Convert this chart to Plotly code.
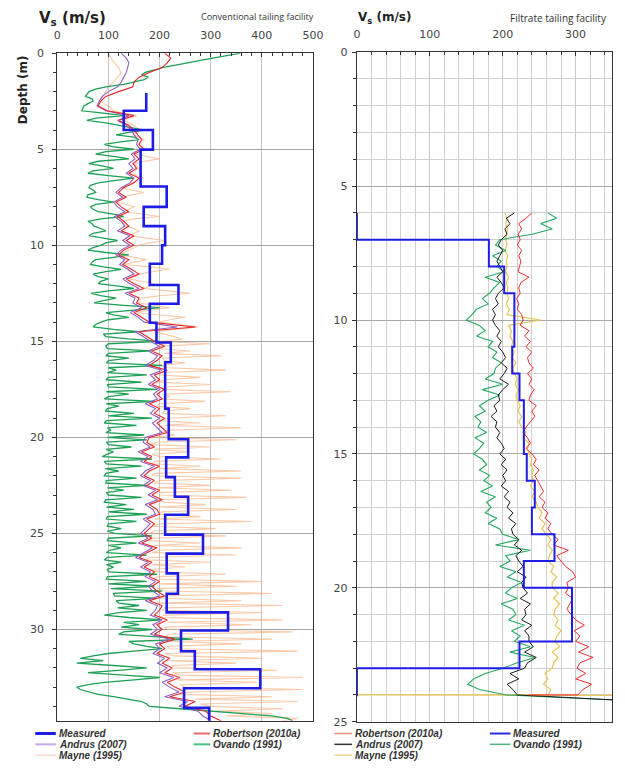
import plotly.graph_objects as go

# ---------------- LEFT PANEL (Conventional tailing facility) ----------------
depth_left = [
    0.0, 0.25, 0.5, 0.75, 1.0, 1.25, 1.5, 1.75, 2.0, 2.25, 2.5, 2.75, 3.0, 3.25, 3.5, 3.75,
    4.0, 4.25, 4.5, 4.75, 5.0, 5.25, 5.5, 5.75, 6.0, 6.25, 6.5, 6.75, 7.0, 7.25, 7.5, 7.75,
    8.0, 8.25, 8.5, 8.75, 9.0, 9.25, 9.5, 9.75, 10.0, 10.25, 10.5, 10.75, 11.0, 11.25, 11.5, 11.75,
    12.0, 12.25, 12.5, 12.75, 13.0, 13.25, 13.5, 13.75, 14.0, 14.25, 14.5, 14.75, 15.0, 15.25, 15.5, 15.75,
    16.0, 16.25, 16.5, 16.75, 17.0, 17.25, 17.5, 17.75, 18.0, 18.25, 18.5, 18.75, 19.0, 19.25, 19.5, 19.75,
    20.0, 20.25, 20.5, 20.75, 21.0, 21.25, 21.5, 21.75, 22.0, 22.25, 22.5, 22.75, 23.0, 23.25, 23.5, 23.75,
    24.0, 24.25, 24.5, 24.75, 25.0, 25.25, 25.5, 25.75, 26.0, 26.25, 26.5, 26.75, 27.0, 27.25, 27.5, 27.75,
    28.0, 28.25, 28.5, 28.75, 29.0, 29.25, 29.5, 29.75, 30.0, 30.25, 30.5, 30.75, 31.0, 31.25, 31.5, 31.75,
    32.0, 32.25, 32.5, 32.75, 33.0, 33.25, 33.5, 33.75, 34.0, 34.25, 34.5, 34.75,
]
robertson_left = [
    210, 222, 215, 205, 180, 160, 150, 148, 120, 95, 85, 80, 98, 150, 120, 140,
    150, 158, 165, 160, 170, 150, 160, 148, 155, 140, 160, 150, 130, 120, 135, 115,
    125, 140, 118, 130, 140, 125, 150, 135, 150, 130, 120, 140, 128, 145, 160, 135,
    150, 170, 140, 160, 155, 175, 150, 165, 180, 270, 160, 175, 190, 210, 185, 205,
    195, 180, 215, 190, 200, 185, 210, 195, 205, 180, 200, 190, 210, 195, 205, 215,
    180, 175, 190, 165, 185, 170, 200, 180, 170, 190, 175, 200, 185, 205, 180, 195,
    200, 175, 190, 180, 170, 185, 165, 195, 175, 160, 185, 170, 190, 180, 200, 185,
    195, 210, 180, 205, 200, 190, 215, 195, 205, 190, 230, 200, 210, 195, 220, 205,
    225, 210, 240, 215, 230, 250, 220, 270, 250, 290, 300, 320,
]
andrus_left = [
    125, 135, 140, 138, 135, 130, 125, 118, 100, 88, 82, 78, 95, 140, 118, 135,
    145, 150, 158, 155, 162, 145, 152, 140, 148, 135, 150, 142, 125, 115, 128, 110,
    118, 132, 112, 125, 132, 118, 142, 128, 142, 125, 115, 132, 122, 138, 150, 128,
    142, 160, 133, 152, 148, 165, 143, 158, 170, 235, 152, 168, 182, 200, 178, 196,
    188, 172, 205, 182, 192, 178, 200, 188, 196, 172, 192, 182, 200, 186, 196, 205,
    172, 168, 182, 158, 178, 163, 190, 172, 163, 182, 168, 192, 178, 196, 172, 187,
    192, 168, 182, 172, 163, 178, 158, 186, 168, 153, 178, 163, 182, 172, 192, 178,
    187, 200, 172, 196, 192, 182, 205, 187, 196, 182, 220, 192, 200, 187, 210, 196,
    215, 200, 228, 205, 220, 238, 210, 255, 238, 275, 285, 300,
]
# finer sampling for the two spiky estimates
depth_left_fine = [
    0.0, 0.125, 0.25, 0.375, 0.5, 0.625, 0.75, 0.875, 1.0, 1.125, 1.25, 1.375, 1.5, 1.625, 1.75, 1.875,
    2.0, 2.125, 2.25, 2.375, 2.5, 2.625, 2.75, 2.875, 3.0, 3.125, 3.25, 3.375, 3.5, 3.625, 3.75, 3.875,
    4.0, 4.125, 4.25, 4.375, 4.5, 4.625, 4.75, 4.875, 5.0, 5.125, 5.25, 5.375, 5.5, 5.625, 5.75, 5.875,
    6.0, 6.125, 6.25, 6.375, 6.5, 6.625, 6.75, 6.875, 7.0, 7.125, 7.25, 7.375, 7.5, 7.625, 7.75, 7.875,
    8.0, 8.125, 8.25, 8.375, 8.5, 8.625, 8.75, 8.875, 9.0, 9.125, 9.25, 9.375, 9.5, 9.625, 9.75, 9.875,
    10.0, 10.125, 10.25, 10.375, 10.5, 10.625, 10.75, 10.875, 11.0, 11.125, 11.25, 11.375, 11.5, 11.625, 11.75, 11.875,
    12.0, 12.125, 12.25, 12.375, 12.5, 12.625, 12.75, 12.875, 13.0, 13.125, 13.25, 13.375, 13.5, 13.625, 13.75, 13.875,
    14.0, 14.125, 14.25, 14.375, 14.5, 14.625, 14.75, 14.875, 15.0, 15.125, 15.25, 15.375, 15.5, 15.625, 15.75, 15.875,
    16.0, 16.125, 16.25, 16.375, 16.5, 16.625, 16.75, 16.875, 17.0, 17.125, 17.25, 17.375, 17.5, 17.625, 17.75, 17.875,
    18.0, 18.125, 18.25, 18.375, 18.5, 18.625, 18.75, 18.875, 19.0, 19.125, 19.25, 19.375, 19.5, 19.625, 19.75, 19.875,
    20.0, 20.125, 20.25, 20.375, 20.5, 20.625, 20.75, 20.875, 21.0, 21.125, 21.25, 21.375, 21.5, 21.625, 21.75, 21.875,
    22.0, 22.125, 22.25, 22.375, 22.5, 22.625, 22.75, 22.875, 23.0, 23.125, 23.25, 23.375, 23.5, 23.625, 23.75, 23.875,
    24.0, 24.125, 24.25, 24.375, 24.5, 24.625, 24.75, 24.875, 25.0, 25.125, 25.25, 25.375, 25.5, 25.625, 25.75, 25.875,
    26.0, 26.125, 26.25, 26.375, 26.5, 26.625, 26.75, 26.875, 27.0, 27.125, 27.25, 27.375, 27.5, 27.625, 27.75, 27.875,
    28.0, 28.125, 28.25, 28.375, 28.5, 28.625, 28.75, 28.875, 29.0, 29.125, 29.25, 29.375, 29.5, 29.625, 29.75, 29.875,
    30.0, 30.125, 30.25, 30.375, 30.5, 30.625, 30.75, 30.875, 31.0, 31.125, 31.25, 31.375, 31.5, 31.625, 31.75, 31.875,
    32.0, 32.125, 32.25, 32.375, 32.5, 32.625, 32.75, 32.875, 33.0, 33.125, 33.25, 33.375, 33.5, 33.625, 33.75, 33.875,
    34.0, 34.125, 34.25, 34.375, 34.5, 34.625, 34.75,
]
mayne_left = [
    100, 102, 105, 108, 112, 116, 120, 122,
    125, 122, 118, 114, 110, 105, 100, 97,
    95, 92, 90, 88, 85, 92, 100, 105,
    110, 130, 155, 140, 130, 140, 150, 155,
    160, 155, 150, 160, 170, 165, 160, 162,
    165, 155, 150, 175, 200, 170, 150, 155,
    160, 150, 140, 155, 170, 155, 145, 135,
    125, 145, 170, 145, 130, 120, 115, 135,
    150, 140, 130, 165, 200, 150, 125, 130,
    135, 150, 160, 150, 140, 175, 210, 180,
    160, 150, 140, 130, 125, 150, 175, 150,
    130, 180, 220, 185, 160, 150, 140, 165,
    190, 180, 170, 215, 260, 200, 165, 160,
    160, 190, 220, 180, 155, 200, 250, 220,
    200, 240, 275, 230, 190, 210, 230, 245,
    200, 300, 205, 195, 260, 210, 320, 205,
    210, 250, 200, 215, 330, 205, 200, 280,
    210, 195, 300, 215, 205, 340, 210, 220,
    205, 290, 200, 195, 260, 210, 205, 330,
    215, 200, 280, 210, 360, 215, 205, 230,
    190, 350, 195, 180, 300, 190, 260, 185,
    200, 320, 190, 185, 280, 200, 360, 190,
    185, 360, 200, 190, 300, 195, 340, 200,
    200, 370, 195, 210, 290, 200, 350, 205,
    200, 280, 190, 380, 200, 185, 310, 190,
    180, 330, 185, 175, 280, 190, 360, 200,
    185, 350, 180, 175, 300, 185, 250, 180,
    200, 330, 195, 190, 400, 200, 350, 195,
    210, 420, 205, 200, 360, 195, 440, 210,
    205, 400, 210, 200, 440, 215, 380, 210,
    215, 460, 220, 210, 420, 220, 360, 215,
    220, 470, 210, 230, 400, 215, 350, 225,
    230, 430, 225, 240, 480, 235, 390, 240,
    250, 480, 260, 240, 420, 270, 470, 280,
    300, 440, 310, 420, 330, 470, 440,
]
ovando_left = [
    358, 330, 300, 280, 255, 230, 205, 190,
    172, 165, 178, 170, 152, 130, 95, 75,
    62, 58, 55, 68, 70, 60, 52, 50,
    48, 90, 130, 75, 58, 95, 120, 150,
    170, 140, 115, 150, 160, 120, 92, 110,
    150, 95, 75, 110, 140, 80, 62, 90,
    110, 70, 60, 100, 150, 115, 80, 65,
    62, 70, 75, 60, 58, 80, 110, 75,
    65, 70, 80, 110, 130, 85, 60, 68,
    72, 85, 95, 70, 62, 90, 118, 95,
    85, 70, 60, 95, 140, 110, 75, 68,
    65, 90, 125, 95, 70, 80, 100, 85,
    80, 120, 150, 100, 66, 85, 115, 90,
    72, 130, 200, 150, 95, 110, 140, 100,
    85, 75, 70, 110, 160, 90, 95, 140,
    200, 100, 95, 98, 185, 100, 95, 140,
    100, 96, 205, 100, 115, 98, 175, 100,
    95, 165, 98, 100, 195, 96, 140, 100,
    92, 190, 96, 120, 98, 94, 150, 100,
    185, 96, 92, 155, 98, 105, 95, 170,
    98, 175, 96, 100, 145, 95, 110, 98,
    88, 185, 92, 96, 165, 94, 120, 95,
    92, 155, 96, 95, 175, 98, 130, 96,
    100, 165, 95, 92, 135, 96, 150, 100,
    175, 98, 96, 155, 100, 98, 125, 98,
    112, 185, 100, 98, 155, 100, 125, 102,
    96, 175, 98, 92, 125, 96, 110, 98,
    100, 195, 98, 96, 175, 100, 190, 105,
    205, 110, 112, 195, 115, 120, 160, 118,
    175, 120, 92, 140, 205, 130, 160, 125,
    185, 130, 120, 190, 265, 140, 150, 175,
    205, 150, 100, 70, 45, 90, 38, 110,
    175, 120, 60, 130, 200, 150, 92, 60,
    38, 45, 62, 80, 110, 140, 165, 175,
    180, 240, 300, 360, 420, 450, 460,
]
# measured (layer tops and Vs), last bottom separately
meas_left_top = [2.07, 3.0, 4.0, 5.02, 6.94, 8.0, 9.0, 10.0, 10.96, 12.07, 13.04, 14.03, 15.06,
                 16.09, 18.5, 20.1, 21.04, 22.07, 23.09, 24.03, 25.06, 26.05, 27.08, 28.14,
                 29.11, 30.05, 31.13, 32.07, 33.06, 34.08]
meas_left_vs = [174, 130, 187, 163, 214, 169, 211, 205, 181, 237, 181, 194, 222,
                211, 218, 256, 213, 230, 256, 211, 285, 214, 236, 214,
                334, 242, 269, 397, 248, 297]
meas_left_bottom = 34.8

# ---------------- RIGHT PANEL (Filtrate tailing facility) ----------------
depth_right = [
    6.0, 6.2, 6.4, 6.6, 6.8, 7.0, 7.2, 7.4, 7.6, 7.8, 8.0, 8.2, 8.4, 8.6, 8.8,
    9.0, 9.2, 9.4, 9.6, 9.8, 10.0, 10.2, 10.4, 10.6, 10.8, 11.0, 11.2, 11.4, 11.6, 11.8,
    12.0, 12.2, 12.4, 12.6, 12.8, 13.0, 13.2, 13.4, 13.6, 13.8, 14.0, 14.2, 14.4, 14.6, 14.8,
    15.0, 15.2, 15.4, 15.6, 15.8, 16.0, 16.2, 16.4, 16.6, 16.8, 17.0, 17.2, 17.4, 17.6, 17.8,
    18.0, 18.2, 18.4, 18.6, 18.8, 19.0, 19.2, 19.4, 19.6, 19.8, 20.0, 20.2, 20.4, 20.6, 20.8,
    21.0, 21.2, 21.4, 21.6, 21.8, 22.0, 22.2, 22.4, 22.6, 22.8, 23.0, 23.2, 23.4, 23.6, 23.8,
]
robertson_right = [
    240, 232, 222, 226, 221, 224, 220, 226, 222, 225, 223, 221, 236, 225, 222,
    224, 219, 222, 220, 226, 228, 224, 236, 230, 238, 232, 240, 234, 236, 242,
    234, 240, 236, 243, 238, 236, 246, 240, 244, 238, 232, 228, 234, 238, 232,
    240, 246, 242, 250, 244, 248, 252, 256, 250, 258, 254, 262, 258, 266, 262,
    268, 276, 270, 290, 274, 280, 286, 296, 300, 288, 290, 286, 296, 292, 288,
    294, 300, 312, 298, 306, 300, 318, 304, 324, 306, 302, 314, 300, 322, 310,
]
andrus_right = [
    216, 205, 210, 203, 206, 198, 194, 200, 196, 192, 196, 200, 192, 198, 202,
    194, 190, 194, 186, 190, 186, 190, 196, 192, 198, 194, 200, 204, 198, 206,
    202, 196, 208, 200, 194, 196, 188, 192, 184, 192, 190, 196, 192, 198, 202,
    196, 204, 198, 206, 200, 204, 198, 208, 202, 210, 206, 214, 208, 218, 212,
    214, 222, 216, 226, 218, 222, 228, 220, 232, 226, 228, 234, 224, 238, 230,
    232, 226, 240, 230, 236, 236, 242, 230, 246, 234, 230, 210, 222, 206, 214,
]
ovando_right = [
    262, 274, 252, 268, 240, 196, 190, 204, 186, 198, 192, 202, 176, 196, 188,
    182, 172, 180, 164, 158, 150, 168, 176, 164, 186, 180, 192, 186, 198, 190,
    188, 176, 200, 172, 196, 180, 168, 176, 162, 170, 166, 178, 162, 174, 168,
    160, 172, 178, 168, 182, 174, 186, 170, 190, 178, 184, 176, 192, 180, 196,
    200, 222, 190, 238, 204, 210, 196, 218, 206, 226, 212, 204, 220, 198, 214,
    218, 208, 230, 212, 224, 216, 238, 210, 244, 220, 200, 176, 160, 152, 168,
]
mayne_right = [
    203, 206, 204, 207, 205, 204, 206, 203, 207, 205, 206, 204, 208, 205, 207,
    206, 208, 205, 209, 206, 252, 208, 212, 210, 214, 212, 216, 213, 218, 214,
    216, 220, 217, 222, 218, 220, 224, 221, 226, 222, 226, 232, 228, 236, 234,
    236, 240, 238, 242, 240, 242, 238, 244, 240, 246, 248, 254, 250, 258, 254,
    260, 266, 262, 268, 264, 262, 270, 266, 274, 268, 268, 276, 270, 278, 272,
    270, 276, 272, 280, 274, 272, 278, 268, 276, 270, 268, 258, 262, 256, 266,
]
# end-of-profile points at ~24 m (profiles run off the chart)
robertson_right_tail_depth = [24.0, 24.0]
robertson_right_tail = [303, 236]
andrus_right_tail_depth = [24.0, 24.25]
andrus_right_tail = [220, 400]
ovando_right_tail_depth = [24.0, 24.25]
ovando_right_tail = [205, 400]
mayne_right_tail_depth = [24.0, 24.0, 24.02]
mayne_right_tail = [262, 0, 400]

meas_right_top = [6.0, 7.0, 8.0, 9.0, 11.0, 12.0, 13.0, 15.0, 16.0, 17.0, 18.0, 19.0, 20.0, 22.0, 23.0]
meas_right_vs = [0, 181, 202, 216, 213, 223, 229, 233, 244, 240, 271, 229, 295, 223, 0]
meas_right_bottom = 24.05

W, H = 625, 771


def px(x):
    return x / W


def py(y):
    return 1 - y / H


fig = go.Figure()

# left traces
fig.add_trace(go.Scatter(x=mayne_left, y=depth_left_fine, mode="lines", xaxis="x", yaxis="y",
                         line=dict(color="rgba(245,165,110,0.6)", width=1.1), showlegend=False))
fig.add_trace(go.Scatter(x=ovando_left, y=depth_left_fine, mode="lines", xaxis="x", yaxis="y",
                         line=dict(color="#1ea055", width=1.3), showlegend=False))
fig.add_trace(go.Scatter(x=andrus_left, y=depth_left, mode="lines", xaxis="x", yaxis="y",
                         line=dict(color="#8d5fc4", width=1.1), showlegend=False))
fig.add_trace(go.Scatter(x=robertson_left, y=depth_left, mode="lines", xaxis="x", yaxis="y",
                         line=dict(color="#e8262b", width=1.1), showlegend=False))
fig.add_trace(go.Scatter(x=meas_left_vs + [meas_left_vs[-1]], y=meas_left_top + [meas_left_bottom],
                         mode="lines", xaxis="x", yaxis="y", line_shape="vh",
                         line=dict(color="#1d1de6", width=2.6), showlegend=False))

# right traces
fig.add_trace(go.Scatter(x=mayne_right + mayne_right_tail, y=depth_right + mayne_right_tail_depth,
                         mode="lines", xaxis="x2", yaxis="y2",
                         line=dict(color="#e8c45a", width=1.2), showlegend=False))
fig.add_trace(go.Scatter(x=ovando_right + ovando_right_tail, y=depth_right + ovando_right_tail_depth,
                         mode="lines", xaxis="x2", yaxis="y2",
                         line=dict(color="#26a862", width=1.1), showlegend=False))
fig.add_trace(go.Scatter(x=andrus_right + andrus_right_tail, y=depth_right + andrus_right_tail_depth,
                         mode="lines", xaxis="x2", yaxis="y2",
                         line=dict(color="#1a1a1a", width=1.0), showlegend=False))
fig.add_trace(go.Scatter(x=robertson_right + robertson_right_tail,
                         y=depth_right + robertson_right_tail_depth,
                         mode="lines", xaxis="x2", yaxis="y2",
                         line=dict(color="#ee2c2c", width=1.0), showlegend=False))
fig.add_trace(go.Scatter(x=meas_right_vs + [meas_right_vs[-1]], y=meas_right_top + [meas_right_bottom],
                         mode="lines", xaxis="x2", yaxis="y2", line_shape="vh",
                         line=dict(color="#1d1de6", width=2.0), showlegend=False))

tickfont = dict(family="DejaVu Sans", size=11, color="#444")

fig.update_layout(
    width=W, height=H, margin=dict(l=0, r=0, t=0, b=0),
    paper_bgcolor="white", plot_bgcolor="white",
    xaxis=dict(domain=[px(54.5), px(316)], range=[0, 500], side="top", anchor="y",
               tick0=0, dtick=100, ticks="inside", ticklen=4, tickcolor="#333",
               showgrid=True, gridcolor="#c4c4c4", gridwidth=1, zeroline=False,
               showline=True, linecolor="#333", linewidth=1.3, mirror=True,
               minor=dict(dtick=20, ticks="inside", ticklen=3, tickcolor="#333", showgrid=False),
               tickfont=tickfont, ticklabelstandoff=9),
    yaxis=dict(domain=[py(727), py(48)], range=[34.75, 0], anchor="x",
               tick0=0, dtick=5, ticks="outside", ticklen=4, tickcolor="#333",
               showgrid=True, gridcolor="#a4a4a4", gridwidth=1, zeroline=False,
               showline=True, linecolor="#333", linewidth=1.3, mirror=True,
               minor=dict(dtick=1, ticks="outside", ticklen=3, tickcolor="#333", showgrid=False),
               tickfont=tickfont, ticklabelstandoff=6),
    xaxis2=dict(domain=[px(361), px(622)], range=[0, 350], side="top", anchor="y2",
                tick0=0, dtick=100, ticks="inside", ticklen=4, tickcolor="#333",
                showgrid=True, gridcolor="#c8c8c8", gridwidth=1, zeroline=False,
                showline=True, linecolor="#333", linewidth=1.3, mirror=True,
                minor=dict(dtick=20, ticks="inside", ticklen=3, tickcolor="#333",
                           showgrid=True, gridcolor="#d0d0d0", gridwidth=1),
                tickfont=tickfont, ticklabelstandoff=9),
    yaxis2=dict(domain=[py(728), py(47)], range=[25, 0], anchor="x2",
                tick0=0, dtick=5, ticks="outside", ticklen=4, tickcolor="#333",
                showgrid=True, gridcolor="#a8a8a8", gridwidth=1, zeroline=False,
                showline=True, linecolor="#333", linewidth=1.3, mirror=True,
                minor=dict(dtick=1, ticks="outside", ticklen=3, tickcolor="#333",
                           showgrid=True, gridcolor="#d0d0d0", gridwidth=1),
                tickfont=tickfont, ticklabelstandoff=2),
)

ann = []
# titles
ann.append(dict(x=px(34), y=py(13), xref="paper", yref="paper", xanchor="left", yanchor="middle",
                text="<b>V<sub>s</sub> (m/s)</b>", showarrow=False,
                font=dict(family="DejaVu Sans", size=15, color="#222")))
ann.append(dict(x=px(319), y=py(11), xref="paper", yref="paper", xanchor="right", yanchor="middle",
                text="Conventional tailing facility", showarrow=False,
                font=dict(family="Open Sans", size=9, color="#333")))
ann.append(dict(x=px(360), y=py(12), xref="paper", yref="paper", xanchor="left", yanchor="middle",
                text="<b>V<sub>s</sub> (m/s)</b>", showarrow=False,
                font=dict(family="DejaVu Sans", size=12, color="#222")))
ann.append(dict(x=px(619), y=py(12), xref="paper", yref="paper", xanchor="right", yanchor="middle",
                text="Filtrate tailing facility", showarrow=False,
                font=dict(family="Open Sans", size=10, color="#333")))
ann.append(dict(x=px(19), y=py(85), xref="paper", yref="paper", xanchor="center", yanchor="middle",
                text="<b>Depth (m)</b>", textangle=-90, showarrow=False,
                font=dict(family="DejaVu Sans", size=12, color="#222")))

shapes = []
legend_items = [
    # (line x0, line x1, y, color, width, label)
    (32, 53, 740, "#1d1de6", 3, "Measured"),
    (32, 53, 751, "#c8a8e8", 2, "Andrus (2007)"),
    (32, 53, 762, "#f4d8cc", 1.5, "Mayne (1995)"),
    (194, 211, 740, "#e86a6a", 2, "Robertson (2010a)"),
    (194, 211, 751, "#4cc080", 2, "Ovando (1991)"),
    (338, 356, 740, "#f28a7a", 1.5, "Robertson (2010a)"),
    (338, 356, 751, "#333333", 1.5, "Andrus (2007)"),
    (338, 356, 762, "#eedb8c", 1.5, "Mayne (1995)"),
    (497, 518, 740, "#2a2ae6", 2, "Measured"),
    (497, 518, 751, "#4cb478", 1.5, "Ovando (1991)"),
]
for x0, x1, yy, col, wd, lab in legend_items:
    shapes.append(dict(type="line", xref="paper", yref="paper", x0=px(x0), x1=px(x1),
                       y0=py(yy), y1=py(yy), line=dict(color=col, width=wd)))
    ann.append(dict(x=px(x1 + 2), y=py(yy), xref="paper", yref="paper", xanchor="left",
                    yanchor="middle", text="<b><i>" + lab + "</i></b>", showarrow=False,
                    borderpad=0, font=dict(family="Liberation Sans", size=10, color="#333")))

fig.update_layout(annotations=ann, shapes=shapes)
fig.write_html("out.html")
